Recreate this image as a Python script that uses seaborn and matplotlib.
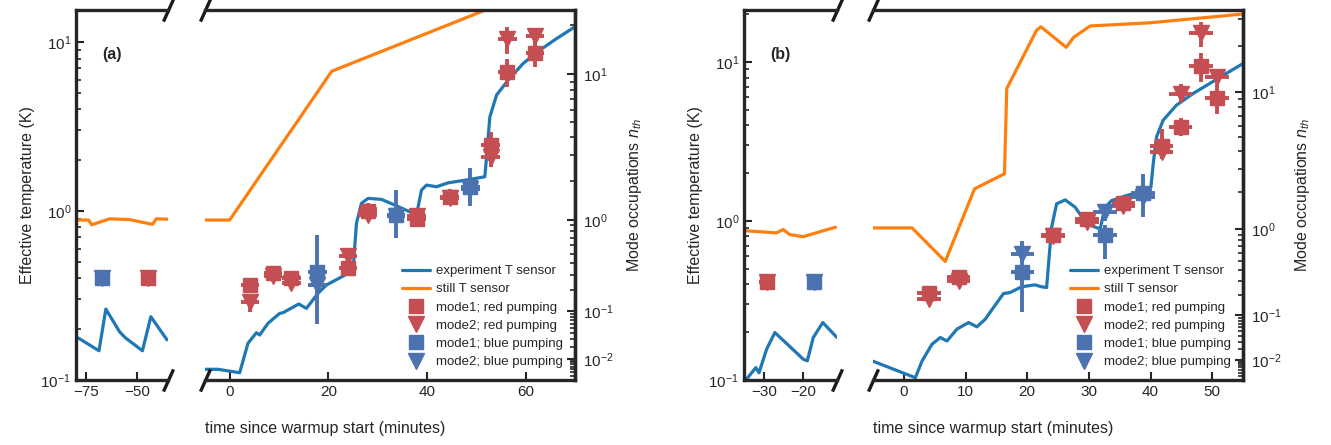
import numpy as np
import matplotlib
matplotlib.use("Agg")
import matplotlib.pyplot as plt
from matplotlib.ticker import FixedLocator, NullFormatter
import seaborn as sns

# ---- panel (a) data ----
a_pre_t_still = [-79.5, -73.9, -72.3, -63.5, -53.8, -42.6, -40.7, -34.6]
a_pre_T_still = [0.885, 0.885, 0.83, 0.90, 0.89, 0.835, 0.90, 0.895]
a_pre_t_exp = [-79.0, -68.75, -65.4, -58.7, -55.8, -47.5, -43.4, -35.5]
a_pre_T_exp = [0.1775, 0.149, 0.263, 0.193, 0.1775, 0.149, 0.237, 0.173]

a_t_still = [-5.0, 0.0, 20.7, 70.0]
a_T_still = [0.885, 0.885, 6.73, 25.2]
a_t_exp = [-5.07, -2.37, 2.03, 3.71, 5.42, 6.09, 7.77, 10.14, 10.81, 14.0,
           15.56, 17.91, 19.61, 22.98, 25.01, 25.70, 26.71, 28.05, 30.77, 33.47,
           36.51, 37.87, 38.88, 39.9, 41.93, 44.28, 48.68, 51.72, 52.07, 52.74,
           54.1, 56.45, 59.49, 62.88, 66.27, 69.98]
a_T_exp = [0.1157, 0.1157, 0.1104, 0.165, 0.1905, 0.1847, 0.2166, 0.248, 0.2502, 0.2818,
           0.2655, 0.326, 0.365, 0.412, 0.448, 0.846, 1.11, 1.189, 1.173, 1.085,
           0.99, 0.947, 1.33, 1.425, 1.393, 1.469, 1.54, 1.596, 2.096, 3.61,
           4.86, 5.96, 7.48, 8.97, 10.5, 12.33]

a_red_t = [-45.0, 4.1, 8.8, 12.5, 24.0, 28.0, 37.9, 44.6, 52.9, 56.3, 61.9]
a_red1_T = [0.40, 0.365, 0.428, 0.40, 0.458, 1.0, 0.893, 1.217, 2.46, 6.67, 8.57]
a_red1_lo = [0.38, 0.335, 0.405, 0.375, 0.425, 0.89, 0.82, 1.1, 2.2, 5.45, 7.15]
a_red1_hi = [0.42, 0.395, 0.45, 0.425, 0.49, 1.12, 0.98, 1.35, 2.94, 8.0, 10.0]
a_red2_T = [0.40, 0.29, 0.415, 0.375, 0.542, 0.95, 0.93, 1.20, 2.09, 10.4, 10.9]
a_red2_lo = [0.38, 0.253, 0.395, 0.355, 0.51, 0.9, 0.87, 1.12, 1.83, 8.5, 9.5]
a_red2_hi = [0.42, 0.318, 0.435, 0.395, 0.575, 1.0, 0.99, 1.28, 2.3, 12.3, 12.05]

a_blue_t = [-67.2, 17.8, 33.7, 48.8]
a_blue1_T = [0.40, 0.437, 0.947, 1.39]
a_blue1_lo = [0.38, 0.216, 0.69, 1.07]
a_blue1_hi = [0.42, 0.72, 1.33, 1.81]
a_blue2_T = [0.40, 0.365, 0.93, 1.36]
a_blue2_lo = [0.38, 0.34, 0.88, 1.3]
a_blue2_hi = [0.42, 0.39, 0.98, 1.43]

# ---- panel (b) data ----
b_pre_t_still = [-35.1, -26.8, -25.1, -23.4, -20.0, -14.9, -11.9]
b_pre_T_still = [0.871, 0.843, 0.885, 0.822, 0.798, 0.871, 0.914]
b_pre_t_exp = [-34.4, -32.0, -31.2, -29.3, -27.2, -20.0, -19.0, -17.5, -15.1, -11.5]
b_pre_T_exp = [0.101, 0.1197, 0.111, 0.156, 0.199, 0.135, 0.132, 0.185, 0.230, 0.185]

b_t_still = [-5.12, 1.34, 6.72, 11.47, 16.32, 16.69, 21.53, 22.23, 26.33, 27.51,
             30.21, 39.9, 45.82, 55.0]
b_T_still = [0.906, 0.906, 0.557, 1.597, 1.985, 6.82, 15.9, 16.7, 12.4, 14.3,
             16.9, 17.7, 18.6, 20.1]
b_t_exp = [-5.12, 1.87, 2.96, 4.57, 5.91, 7.0, 8.61, 10.5, 11.84, 13.18,
           16.16, 17.22, 19.11, 21.26, 22.34, 23.15, 23.96, 24.77, 26.17, 27.79,
           29.66, 31.83, 32.63, 33.7, 36.12, 39.35, 40.06, 40.44, 40.97, 42.05,
           44.2, 46.9, 49.6, 52.28, 55.0]
b_T_exp = [0.1318, 0.1034, 0.1318, 0.168, 0.185, 0.176, 0.209, 0.230, 0.216, 0.241,
           0.350, 0.355, 0.386, 0.397, 0.386, 0.382, 0.914, 1.284, 1.36, 1.222,
           0.959, 0.893, 1.222, 1.346, 1.448, 1.556, 1.633, 2.295, 3.38, 4.31,
           5.36, 6.35, 7.34, 8.49, 9.8]

b_red_t = [-29.3, 4.1, 8.9, 24.2, 29.7, 35.6, 41.8, 44.9, 48.2, 50.8]
b_red1_T = [0.411, 0.353, 0.447, 0.822, 1.033, 1.294, 2.95, 3.91, 9.44, 5.98]
b_red1_lo = [0.39, 0.335, 0.425, 0.78, 0.97, 1.2, 2.6, 3.45, 7.52, 4.74]
b_red1_hi = [0.43, 0.37, 0.47, 0.87, 1.1, 1.4, 3.82, 4.45, 11.5, 7.0]
b_red2_T = [0.411, 0.322, 0.42, 0.80, 0.98, 1.25, 2.72, 6.34, 15.2, 8.07]
b_red2_lo = [0.39, 0.3, 0.4, 0.76, 0.92, 1.17, 2.47, 5.6, 12.5, 7.0]
b_red2_hi = [0.43, 0.34, 0.44, 0.84, 1.04, 1.33, 3.0, 7.3, 17.9, 8.7]

b_blue_t = [-17.3, 19.2, 32.6, 38.8]
b_blue1_T = [0.411, 0.475, 0.822, 1.496]
b_blue1_lo = [0.39, 0.266, 0.578, 1.057]
b_blue1_hi = [0.43, 0.6, 0.95, 1.99]
b_blue2_T = [0.411, 0.621, 1.137, 1.41]
b_blue2_lo = [0.39, 0.55, 1.0, 1.3]
b_blue2_hi = [0.43, 0.753, 1.22, 1.55]

t_halfwidth = 1.9   # minutes, half of a measurement
HF_K = 0.615        # h f / k_B of the modes in kelvin

RED = "#c44e52"
BLUE = "#4c72b0"
C_EXP = "#1f77b4"
C_STILL = "#ff7f0e"
INK = "#262626"

sns.set_theme(style="ticks")
plt.rcParams["font.family"] = ["Liberation Sans", "DejaVu Sans"]
plt.rcParams.update({
    "mathtext.fontset": "custom",
    "mathtext.rm": "Liberation Sans",
    "mathtext.it": "Liberation Sans:italic",
    "mathtext.bf": "Liberation Sans:bold",
    "axes.linewidth": 2.4,
    "axes.edgecolor": INK,
    "xtick.direction": "in",
    "ytick.direction": "in",
    "xtick.major.size": 6,
    "ytick.major.size": 6,
    "ytick.minor.size": 3.5,
    "xtick.major.width": 1.5,
    "ytick.major.width": 1.5,
    "ytick.minor.width": 1.2,
    "xtick.labelsize": 11,
    "ytick.labelsize": 11,
    "axes.labelsize": 11.5,
    "text.color": INK,
    "axes.labelcolor": INK,
    "xtick.color": INK,
    "ytick.color": INK,
})


def temp_to_n(T):
    T = np.clip(np.asarray(T, dtype=float), 1e-2, None)
    return 1.0 / np.expm1(HF_K / T)


def n_to_temp(n):
    n = np.clip(np.asarray(n, dtype=float), 1e-30, None)
    return HF_K / np.log1p(1.0 / n)


def points(ax, t, T, lo, hi, color, marker, ms):
    T = np.asarray(T)
    yerr = [T - np.asarray(lo), np.asarray(hi) - T]
    eb = ax.errorbar(t, T, xerr=t_halfwidth, yerr=yerr, fmt=marker, color=color,
                     ms=ms, elinewidth=2.8, capsize=0, zorder=4)
    return eb


def break_marks(ax, x):
    ax.plot([x, x], [0, 1], transform=ax.transAxes, marker=[(-0.45, -1), (0.45, 1)],
            markersize=16, linestyle="none", color="k", mec="k", mew=2.4, clip_on=False)


def draw_panel(fig, lx, rx, xlim_l, xlim_r, ylim, ticks_l, ticks_r, tag,
               pre_still, pre_exp, still, exp_, red1, red2, blue1, blue2,
               red_t, blue_t):
    bottom, height = 65 / 445, 370 / 445
    ax_l = fig.add_axes([lx[0] / 1331, bottom, (lx[1] - lx[0]) / 1331, height])
    ax_r = fig.add_axes([rx[0] / 1331, bottom, (rx[1] - rx[0]) / 1331, height], sharey=ax_l)

    for ax, s, e in [(ax_l, pre_still, pre_exp), (ax_r, still, exp_)]:
        sns.lineplot(x=e[0], y=e[1], ax=ax, color=C_EXP, lw=2.3, zorder=2)
        sns.lineplot(x=s[0], y=s[1], ax=ax, color=C_STILL, lw=2.3, zorder=2)

    handles = [ax_r.lines[0], ax_r.lines[1]]
    n_pre_red = sum(1 for t in red_t if t < 0)
    n_pre_blue = sum(1 for t in blue_t if t < 0)
    series = [(red1, red_t, RED, "s", 10, n_pre_red),
              (red2, red_t, RED, "v", 11, n_pre_red),
              (blue1, blue_t, BLUE, "s", 10, n_pre_blue),
              (blue2, blue_t, BLUE, "v", 11, n_pre_blue)]
    for (T, lo, hi), t, col, mk, ms, k in series:
        points(ax_l, t[:k], T[:k], lo[:k], hi[:k], col, mk, ms)
        eb = points(ax_r, t[k:], T[k:], lo[k:], hi[k:], col, mk, ms)
        handles.append(eb[0])

    ax_l.set_yscale("log")
    ax_l.set_ylim(*ylim)
    ax_l.set_xlim(*xlim_l)
    ax_r.set_xlim(*xlim_r)
    ax_l.set_xticks(ticks_l)
    ax_r.set_xticks(ticks_r)

    ax_l.spines["right"].set_visible(False)
    ax_r.spines["left"].set_visible(False)
    ax_r.tick_params(axis="y", which="both", left=False, labelleft=False, right=False)
    ax_l.tick_params(axis="y", which="both", right=False)
    ax_l.set_ylabel("Effective temperature (K)")
    ax_l.set_xlabel("")
    ax_r.set_xlabel("time since warmup start (minutes)", loc="left", labelpad=16)

    sec = ax_r.secondary_yaxis("right", functions=(temp_to_n, n_to_temp))
    sec.yaxis.set_major_locator(FixedLocator([1e-2, 1e-1, 1.0, 10.0]))
    sec.yaxis.set_minor_locator(FixedLocator(
        [m * 10.0 ** e for e in range(-3, 2) for m in range(2, 10)]))
    sec.yaxis.set_minor_formatter(NullFormatter())
    sec.tick_params(which="both", direction="in")
    sec.tick_params(which="major", pad=6)
    sec.set_ylabel("Mode occupations $n_{th}$", labelpad=8)

    break_marks(ax_l, 1)
    break_marks(ax_r, 0)

    ax_l.text(0.28, 0.88, tag, transform=ax_l.transAxes, fontsize=11.5,
              fontweight="bold", ha="left", va="center")

    labels = ["experiment T sensor", "still T sensor", "mode1; red pumping",
              "mode2; red pumping", "mode1; blue pumping", "mode2; blue pumping"]
    ax_r.legend(handles, labels, loc="lower right", frameon=False, fontsize=9.5,
                handlelength=2.1, handletextpad=0.5, labelspacing=0.45)


fig = plt.figure(figsize=(13.31, 4.45), dpi=100)

draw_panel(fig, (76, 168), (205, 575), (-80, -35), (-5, 70), (0.1, 15.5),
           [-75, -50], [0, 20, 40, 60], "(a)",
           (a_pre_t_still, a_pre_T_still), (a_pre_t_exp, a_pre_T_exp),
           (a_t_still, a_T_still), (a_t_exp, a_T_exp),
           (a_red1_T, a_red1_lo, a_red1_hi), (a_red2_T, a_red2_lo, a_red2_hi),
           (a_blue1_T, a_blue1_lo, a_blue1_hi), (a_blue2_T, a_blue2_lo, a_blue2_hi),
           a_red_t, a_blue_t)

draw_panel(fig, (744, 837), (873, 1243), (-35, -11.5), (-5, 55), (0.1, 21.3),
           [-30, -20], [0, 10, 20, 30, 40, 50], "(b)",
           (b_pre_t_still, b_pre_T_still), (b_pre_t_exp, b_pre_T_exp),
           (b_t_still, b_T_still), (b_t_exp, b_T_exp),
           (b_red1_T, b_red1_lo, b_red1_hi), (b_red2_T, b_red2_lo, b_red2_hi),
           (b_blue1_T, b_blue1_lo, b_blue1_hi), (b_blue2_T, b_blue2_lo, b_blue2_hi),
           b_red_t, b_blue_t)

fig.savefig("out.png", dpi=100)
